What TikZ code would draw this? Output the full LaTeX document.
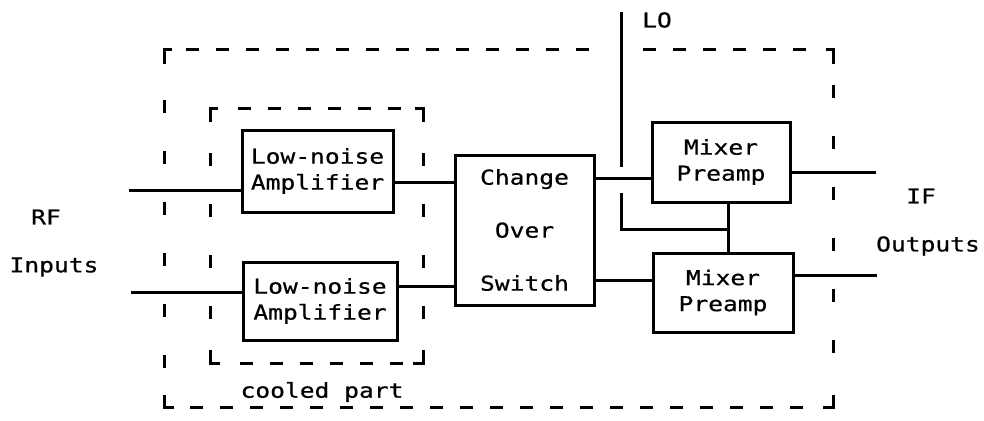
\documentclass[tikz,border=0pt]{standalone}
\usepackage{fontspec}
\newfontfamily\plotfont[FakeStretch=1.2,FakeBold=0.6]{DejaVu Sans Mono}
\begin{document}
\begin{tikzpicture}[x=1pt,y=-1pt,
  line width=3pt,
  font=\plotfont\fontsize{20.5}{26}\selectfont,
  box/.style={draw, line width=3pt, inner sep=0pt, align=center},
  hd/.style={dash pattern=on 13pt off 17pt, line width=3pt},
  vd/.style={dash pattern=on 13pt off 38pt, line width=3pt},
  corner/.style={line width=3pt},
  lbl/.style={inner sep=0pt}]
\useasboundingbox (0,0) rectangle (984,420);

% blocks
\node[box, minimum width=151pt, minimum height=82pt] (LNA1) at (317.5,171) {Low-noise\\Amplifier};
\node[box, minimum width=154pt, minimum height=78pt] (LNA2) at (320,301) {Low-noise\\Amplifier};
\node[box, minimum width=139pt, minimum height=150pt] (SW) at (524.5,230) {Change\\[27pt]Over\\[27pt]Switch};
\node[box, minimum width=138pt, minimum height=80pt] (MX1) at (721,162) {Mixer\\Preamp};
\node[box, minimum width=140pt, minimum height=79pt] (MX2) at (723,292.5) {Mixer\\Preamp};

% labels
\node[lbl] (RF) at (46,217) {RF};
\node[lbl] (IN) at (54,267) {Inputs};
\node[lbl] (IF) at (921,196) {IF};
\node[lbl] (OUT) at (928,246) {Outputs};
\node[lbl] (LO) at (657,20) {LO};
\node[lbl] (CP) at (322,392) {cooled part};

% helper coordinates
\coordinate (in1) at (129,190);
\coordinate (in2) at (131,292);
\coordinate (y1) at (0,182);
\coordinate (y2) at (0,286);
\coordinate (y3) at (0,178);
\coordinate (y4) at (0,280);
\coordinate (out1) at (876,172);
\coordinate (out2) at (877,275);
\coordinate (LOtop) at (621,12);
\coordinate (LOgapa) at (621,167);
\coordinate (LOgapb) at (621,193);
\coordinate (LObot) at (621,229);
\coordinate (LOjoin) at (728,229);
\coordinate (xv) at (728,0);

% connectors
\draw (in1) -- (LNA1.west |- in1);
\draw (in2) -- (LNA2.west |- in2);
\draw (LNA1.east |- y1) -- (SW.west |- y1);
\draw (LNA2.east |- y2) -- (SW.west |- y2);
\draw (SW.east |- y3) -- (MX1.west |- y3);
\draw (SW.east |- y4) -- (MX2.west |- y4);
\draw (MX1.east |- out1) -- (out1);
\draw (MX2.east |- out2) -- (out2);
\draw (LOtop) -- (LOgapa);
\draw (LOgapb) -- (LObot) -- (LOjoin);
\draw (MX1.south -| xv) -- (MX2.north -| xv);

% outer dashed boundary
\draw[corner] (164,64) -- (164,50) -- (172,50);
\draw[hd] (186,50) -- (600,50);
\draw[hd] (643,50) -- (818,50);
\draw[corner] (826,50) -- (833,50) -- (833,64);
\draw[vd] (164,100) -- (164,380);
\draw[vd] (833,85) -- (833,380);
\draw[corner] (164,395) -- (164,407) -- (174,407);
\draw[hd] (190,407) -- (815,407);
\draw[corner] (823,407) -- (833,407) -- (833,395);

% inner dashed boundary (cooled part)
\draw[corner] (210,122) -- (210,108) -- (218,108);
\draw[hd] (238,108) -- (405,108);
\draw[corner] (415,108) -- (423,108) -- (423,122);
\draw[vd] (210,153) -- (210,330);
\draw[vd] (423,153) -- (423,330);
\draw[corner] (210,350) -- (210,363) -- (220,363);
\draw[hd] (240,363) -- (405,363);
\draw[corner] (413,363) -- (423,363) -- (423,350);
\end{tikzpicture}
\end{document}
